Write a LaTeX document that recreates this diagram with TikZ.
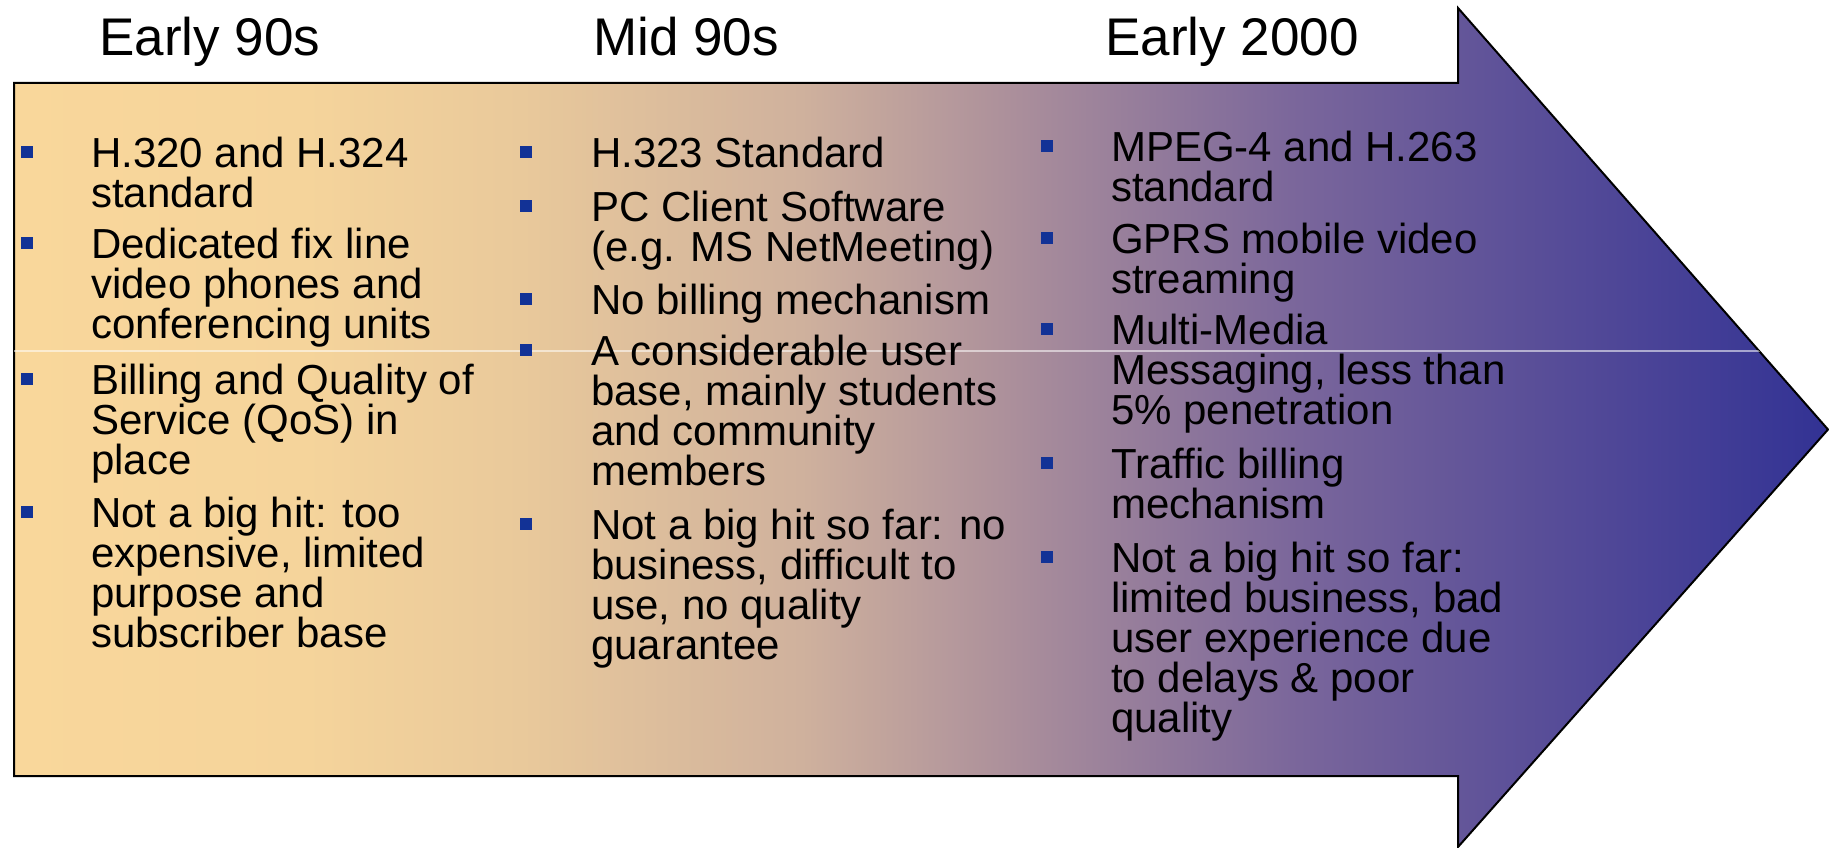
\documentclass[tikz,border=0pt]{standalone}
\usepackage{fontspec}
\setmainfont{Liberation Sans}
\definecolor{ca}{RGB}{249,215,155}
\definecolor{cb}{RGB}{245,212,155}
\definecolor{cc}{RGB}{233,201,155}
\definecolor{cd}{RGB}{207,177,157}
\definecolor{ce}{RGB}{170,142,155}
\definecolor{cf}{RGB}{122,102,155}
\definecolor{cg}{RGB}{86,76,152}
\definecolor{ch}{RGB}{50,50,148}
\definecolor{bulletblue}{RGB}{18,50,150}
\pgfdeclarehorizontalshading{arrowshade}{100bp}{color(0bp)=(ca); color(25bp)=(ca); color(33bp)=(cb); color(39bp)=(cc); color(46.7bp)=(cd); color(52.7bp)=(ce); color(60.4bp)=(cf); color(67.6bp)=(cg); color(75bp)=(ch); color(100bp)=(ch)}
\newcommand{\itmfont}{\fontsize{42}{40}\selectfont\lineskiplimit=-100pt\relax}
\newcommand{\headfont}{\fontsize{53}{60}\selectfont}
\tikzset{
  head/.style={anchor=base west, inner sep=0pt, font=\headfont},
  itm/.style={anchor=north west, inner sep=0pt, align=left, font=\itmfont},
  bul/.style={rectangle, fill=bulletblue, draw=none, minimum size=12pt, inner sep=0pt},
  arrowbody/.style={draw=black, line width=2pt, line join=miter, shading=arrowshade}
}
\newcommand{\fs}{\rule{0pt}{34pt}}
\begin{document}
\begin{tikzpicture}[x=1pt,y=-1pt]
\useasboundingbox (0,0) rectangle (1829,848);
% arrow shape
\path[arrowbody] (14,83) -- (1458,83) -- (1458,8) -- (1828,429.5) -- (1458,847) -- (1458,776) -- (14,776) -- cycle;
\begin{scope}
\clip (14,83) -- (1458,83) -- (1458,8) -- (1828,429.5) -- (1458,847) -- (1458,776) -- (14,776) -- cycle;
\draw[white, opacity=0.55, line width=1.2pt] (14,351) -- (1828,351);
\end{scope}
% headings
\node[head] (h1) at (99,56) {Early 90s};
\node[head] (h2) at (593,56) {Mid 90s};
\node[head] (h3) at (1105,56) {Early 2000};
% column 1
\node[bul] (b11) at (27,152) {};
\node[itm] (t11) at (91,133) {\fs H.320 and H.324\\standard};
\node[bul] (b12) at (27,243) {};
\node[itm] (t12) at (91,224) {\fs Dedicated fix line\\video phones and\\conferencing units};
\node[bul] (b13) at (27,379) {};
\node[itm] (t13) at (91,360) {\fs Billing and Quality of\\Service (QoS) in\\place};
\node[bul] (b14) at (27,512) {};
\node[itm] (t14) at (91,493) {\fs Not a big hit: too\\expensive, limited\\purpose and\\subscriber base};
% column 2
\node[bul] (b21) at (526,152) {};
\node[itm] (t21) at (591,133) {\fs H.323 Standard};
\node[bul] (b22) at (526,206) {};
\node[itm] (t22) at (591,187) {\fs PC Client Software\\(e.g. MS NetMeeting)};
\node[bul] (b23) at (526,299) {};
\node[itm] (t23) at (591,280) {\fs No billing mechanism};
\node[bul] (b24) at (526,350) {};
\node[itm] (t24) at (591,331) {\fs A considerable user\\base, mainly students\\and community\\members};
\node[bul] (b25) at (526,524) {};
\node[itm] (t25) at (591,505) {\fs Not a big hit so far: no\\business, difficult to\\use, no quality\\guarantee};
% column 3
\node[bul] (b31) at (1047,146) {};
\node[itm] (t31) at (1111,127) {\fs MPEG-4 and H.263\\standard};
\node[bul] (b32) at (1047,238) {};
\node[itm] (t32) at (1111,219) {\fs GPRS mobile video\\streaming};
\node[bul] (b33) at (1047,329) {};
\node[itm] (t33) at (1111,310) {\fs Multi-Media\\Messaging, less than\\5\% penetration};
\node[bul] (b34) at (1047,463) {};
\node[itm] (t34) at (1111,444) {\fs Traffic billing\\mechanism};
\node[bul] (b35) at (1047,557) {};
\node[itm] (t35) at (1111,538) {\fs Not a big hit so far:\\limited business, bad\\user experience due\\to delays \& poor\\quality};
\end{tikzpicture}
\end{document}
